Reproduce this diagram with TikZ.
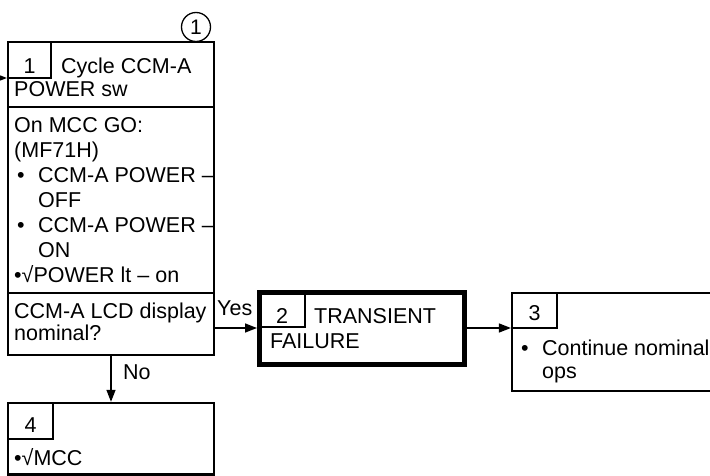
\documentclass[tikz,border=0pt]{standalone}
\usepackage{fontspec}
\setmainfont{Liberation Sans}
\usetikzlibrary{arrows.meta,calc}
\begin{document}
\begin{tikzpicture}[x=1pt,y=-1pt,
  boxs/.style={draw, line width=2.2pt, rectangle, inner sep=0pt},
  cell/.style={draw, line width=1.3pt},
  divider/.style={line width=2.2pt},
  arr/.style={line width=1.5pt, -{Triangle[length=12pt,width=9pt]}},
  lbl/.style={font=\fontsize{21.5}{24}\selectfont, inner sep=0pt},
  txt/.style={font=\fontsize{21.5}{#1}\selectfont, inner sep=0pt, anchor=north west, align=left},
  txt/.default=24]
\useasboundingbox (0,0) rectangle (710,476);

% boxes
\node[boxs, minimum width=206pt, minimum height=313pt] (b1) at (111,198.5) {};
\node[boxs, line width=5pt, minimum width=204.5pt, minimum height=72pt] (b2) at (361.75,328) {};
\node[boxs, minimum width=208pt, minimum height=98pt] (b3) at (616,342) {};
\node[boxs, line width=2.4pt, minimum width=206pt, minimum height=71.5pt] (b4) at (111,438.75) {};

% dividers and number cells
\draw[divider] (8,107) -- (214,107);
\draw[divider] (8,293) -- (214,293);
\draw[cell] (8,42) rectangle (51,78);
\draw[cell] (259.5,292) rectangle (305,327);
\draw[cell] (512,293) rectangle (557,328);
\draw[cell] (8,403) rectangle (53,439);

% connector symbol
\node[draw, circle, line width=1.3pt, minimum size=29pt, inner sep=0pt, font=\fontsize{21}{24}\selectfont] (c1) at (196,27) {1};

% box 1 texts
\node[lbl, anchor=base] (n1) at (29.5,74) {1};
\node[lbl, anchor=base west] (t1a) at (61,74) {Cycle CCM-A};
\node[lbl, anchor=base west] (t1b) at (14,97) {POWER sw};
\node[txt=25] (t1c) at (14,114) {\rule{0pt}{18pt}On MCC GO:\\(MF71H)\\\makebox[24pt][l]{\hspace*{3pt}•}CCM-A POWER –\\\hspace*{24pt}OFF\\\makebox[24pt][l]{\hspace*{3pt}•}CCM-A POWER –\\\hspace*{24pt}ON\\•√POWER lt – on};
\node[txt=22] (t1d) at (14,300) {\rule{0pt}{18pt}CCM-A LCD display\\nominal?};

% box 2 texts
\node[lbl, anchor=base] (n2) at (282,323) {2};
\node[lbl, anchor=base west] (t2a) at (314,323) {TRANSIENT};
\node[lbl, anchor=base west] (t2b) at (270,348) {FAILURE};

% box 3 texts
\node[lbl, anchor=base] (n3) at (534.5,320) {3};
\node[txt=23] (t3) at (521,337) {\rule{0pt}{18pt}\makebox[21pt][l]{•}Continue nominal\\\hspace*{21pt}ops};

% box 4 texts
\node[lbl, anchor=base] (n4) at (30.5,432) {4};
\node[lbl, anchor=base west] (t4) at (14,465) {•√MCC};

% connectors
\coordinate (entry) at (0,78);
\draw[arr] (entry) -- (entry -| b1.west);
\draw[arr] (b2.west -| b1.east) -- (b2.west);
\draw[arr] (b2.east) -- (b2.east -| b3.west);
\draw[arr] (b1.south) -- (b4.north);

% connector labels
\node[lbl, anchor=base west] (yes) at (217,315) {Yes};
\node[lbl, anchor=base west] (no) at (123,379) {No};
\end{tikzpicture}
\end{document}
